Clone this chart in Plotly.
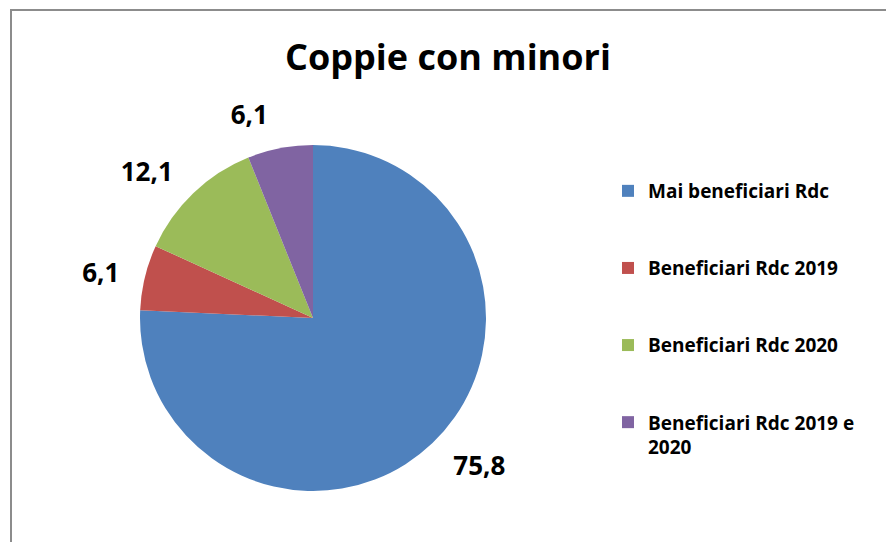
import plotly.graph_objects as go

categorie = ["Mai beneficiari Rdc", "Beneficiari Rdc 2019", "Beneficiari Rdc 2020",
             "Beneficiari Rdc 2019 e<br>2020"]
valori = [75.8, 6.1, 12.1, 6.1]
colori = ["#4F81BD", "#C0504D", "#9BBB59", "#8064A2"]

W, H = 886, 542
CX, CY, R = 313, 318, 173   # pie centre and radius in px
R_TESTO = 190                # labels sit a bit further out, like excel

# padding lines so legend entries are spaced like the excel chart
etichette_legenda = [c + "<br> <br> " if "<br>" not in c else c for c in categorie]


def dominio(r):
    return dict(x=[(CX - r) / W, (CX + r) / W], y=[1 - (CY + r) / H, 1 - (CY - r) / H])


fig = go.Figure()
fig.add_trace(go.Pie(
    labels=etichette_legenda,
    values=valori,
    sort=False,
    direction="clockwise",
    rotation=0,
    marker=dict(colors=colori, line=dict(width=0)),
    textinfo="none",
    hovertemplate="%{value:.1f}<extra></extra>",
    domain=dominio(R),
))
# transparent twin pie, only used to carry the outside value labels
fig.add_trace(go.Pie(
    labels=etichette_legenda,
    values=valori,
    sort=False,
    direction="clockwise",
    rotation=0,
    showlegend=False,
    hoverinfo="skip",
    marker=dict(colors=["rgba(0,0,0,0)"] * 4, line=dict(width=0)),
    texttemplate="%{value:.1f}",
    textposition="outside",
    textfont=dict(family="Open Sans", size=26, color="black", weight="bold"),
    domain=dominio(R_TESTO),
))

fig.update_layout(
    width=W, height=H,
    margin=dict(l=0, r=0, t=0, b=0),
    paper_bgcolor="white",
    separators=",.",
    title=dict(text="<b>Coppie con minori</b>", x=448 / W, xanchor="center",
               y=1 - 57 / H, yanchor="middle",
               font=dict(family="Open Sans", size=36, color="black")),
    legend=dict(x=608 / W, xanchor="left", y=1 - 172 / H, yanchor="top",
                valign="top", itemwidth=30,
                font=dict(family="Open Sans", size=19, color="black", weight="bold")),
    shapes=[dict(type="rect", xref="paper", yref="paper",
                 x0=11 / W, x1=1.05, y0=-0.05, y1=1 - 10 / H,
                 line=dict(color="#8c8c8c", width=2))],
)

fig.write_html("out.html", config={"displayModeBar": False},
               post_script="document.body.style.margin='0';")
